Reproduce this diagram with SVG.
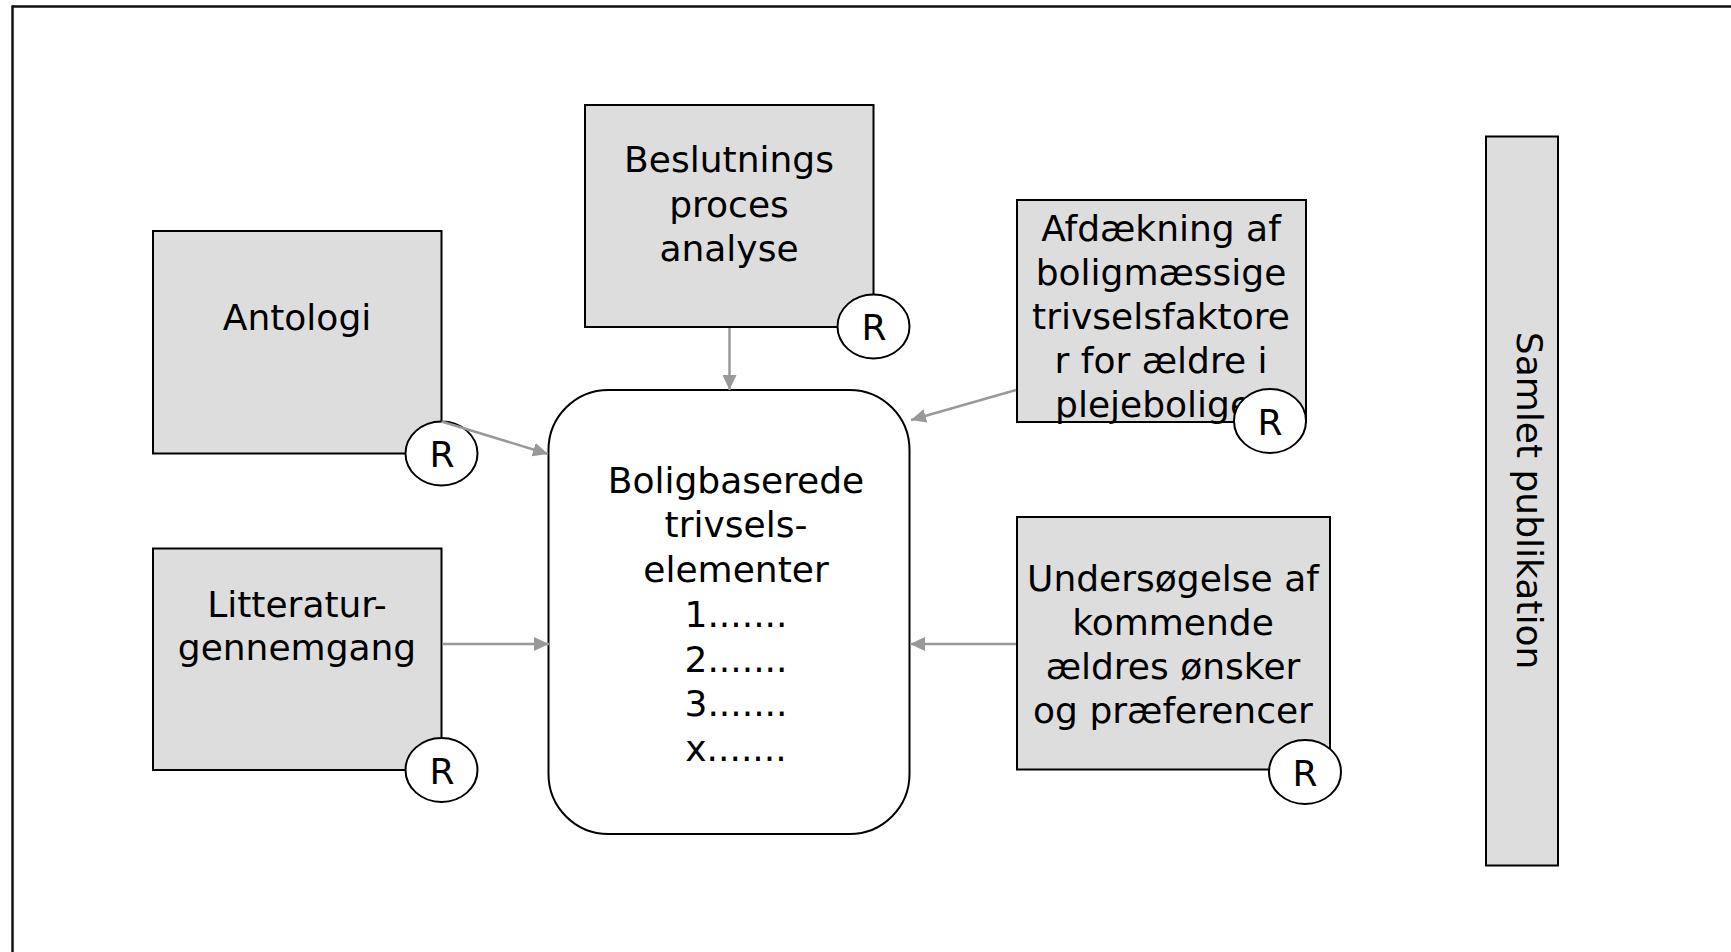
<svg xmlns="http://www.w3.org/2000/svg" width="1731" height="952" viewBox="0 0 1731 952">
<style>
.box{fill:#dddddd;stroke:#000;stroke-width:2}
.r{fill:#fff;stroke:#000;stroke-width:2}
.main{fill:#fff;stroke:#000;stroke-width:2}
text{font-family:"DejaVu Sans",Verdana,sans-serif;font-size:36px;fill:#000;text-anchor:middle}
.conn{stroke:#999;stroke-width:2.5;fill:none;marker-end:url(#arr)}
</style>
<defs>
<marker id="arr" markerUnits="userSpaceOnUse" markerWidth="16" markerHeight="14" refX="15" refY="7" orient="auto">
<path d="M0,0 L15,7 L0,14 z" fill="#999"/>
</marker>
</defs>
<g id="frame">
<line x1="12" y1="6.5" x2="1731" y2="6.5" stroke="#111" stroke-width="2.5"/>
<line x1="12.5" y1="5.5" x2="12.5" y2="952" stroke="#111" stroke-width="2.5"/>
</g>
<g id="main">
<rect class="main" x="548.5" y="390" width="361" height="444" rx="60" ry="60"/>
<text x="736" y="493">Boligbaserede</text>
<text x="736" y="537">trivsels-</text>
<text x="736" y="582">elementer</text>
<text x="736" y="627">1.......</text>
<text x="736" y="672">2.......</text>
<text x="736" y="716">3.......</text>
<text x="736" y="761">x.......</text>
</g>
<g id="antologi">
<rect class="box" x="153" y="231" width="288.5" height="222.5"/>
<text x="297" y="330">Antologi</text>
<ellipse class="r" cx="441.5" cy="453.5" rx="36" ry="32"/>
<text x="442" y="467">R</text>
</g>
<g id="beslutnings">
<rect class="box" x="585" y="105" width="288.5" height="222"/>
<text x="729" y="172">Beslutnings</text>
<text x="729" y="217">proces</text>
<text x="729" y="261">analyse</text>
<ellipse class="r" cx="873.5" cy="326.5" rx="36" ry="32"/>
<text x="874" y="340">R</text>
</g>
<g id="litteratur">
<rect class="box" x="153" y="548.5" width="288.5" height="221.5"/>
<text x="297" y="617">Litteratur-</text>
<text x="297" y="660">gennemgang</text>
<ellipse class="r" cx="441.5" cy="770" rx="36" ry="32"/>
<text x="442" y="784">R</text>
</g>
<g id="afdaekning">
<rect class="box" x="1017" y="200" width="289" height="222"/>
<text x="1161" y="241">Afdækning af</text>
<text x="1161" y="285">boligmæssige</text>
<text x="1161" y="329">trivselsfaktore</text>
<text x="1161" y="373">r for ældre i</text>
<text x="1161" y="417">plejeboliger</text>
<ellipse class="r" cx="1270" cy="421" rx="36" ry="32"/>
<text x="1270" y="435">R</text>
</g>
<g id="undersoegelse">
<rect class="box" x="1017" y="517" width="313" height="252.5"/>
<text x="1173" y="591">Undersøgelse af</text>
<text x="1173" y="635">kommende</text>
<text x="1173" y="679">ældres ønsker</text>
<text x="1173" y="723">og præferencer</text>
<ellipse class="r" cx="1305" cy="772" rx="36" ry="32"/>
<text x="1305" y="786">R</text>
</g>
<g id="samlet">
<rect class="box" x="1486" y="136.5" width="72" height="729"/>
<text transform="translate(1517,500.5) rotate(90)">Samlet publikation</text>
</g>
<g id="connectors">
<line class="conn" x1="729.5" y1="328" x2="729.5" y2="390"/>
<line class="conn" x1="441.5" y1="421.5" x2="548" y2="454"/>
<line class="conn" x1="442.5" y1="644" x2="549" y2="644"/>
<line class="conn" x1="1016" y1="390" x2="911" y2="420"/>
<line class="conn" x1="1016" y1="644" x2="910" y2="644"/>
</g>
</svg>
